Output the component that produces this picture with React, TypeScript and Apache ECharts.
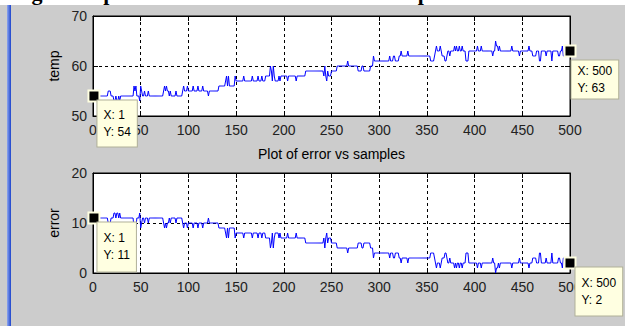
import React, { useEffect, useRef } from "react";
import * as echarts from "echarts";

// Run lengths (number of consecutive samples) shared by both plots
const RUN_LENGTHS = [
  15, 3, 3, 2, 1, 2, 1, 1, 14, 1,
  1, 1, 3, 1, 1, 1, 2, 1, 3, 1,
  15, 1, 1, 1, 1, 2, 1, 1, 5, 1,
  6, 1, 1, 3, 1, 5, 1, 4, 1, 4,
  1, 5, 1, 10, 7, 1, 1, 1, 1, 6,
  1, 8, 1, 8, 1, 5, 1, 3, 1, 3,
  5, 1, 1, 1, 1, 1, 4, 1, 1, 7,
  1, 8, 1, 9, 19, 1, 1, 1, 1, 1,
  3, 6, 11, 1, 10, 4, 2, 7, 3, 1,
  16, 1, 3, 2, 4, 2, 1, 6, 1, 23,
  4, 1, 1, 1, 3, 1, 1, 3, 2, 1,
  2, 1, 4, 1, 1, 1, 2, 1, 2, 1,
  3, 3, 9, 1, 3, 1, 11, 1, 2, 1,
  2, 1, 1, 12, 1, 7, 1, 9, 1, 3,
  4, 3, 2, 5, 1, 5, 1, 6, 2, 2,
  1, 2, 2, 4,
];

// Temperature level of each run
const TEMP_LEVELS = [
  54, 55, 54, 53, 54, 53, 54, 53, 54, 56,
  55, 56, 54, 53, 56, 55, 54, 55, 54, 55,
  54, 55, 56, 55, 56, 55, 54, 55, 54, 55,
  54, 55, 56, 55, 56, 55, 56, 55, 56, 55,
  56, 55, 54, 55, 56, 57, 58, 56, 58, 56,
  58, 57, 58, 57, 58, 57, 58, 57, 58, 57,
  58, 60, 59, 57, 60, 58, 57, 58, 57, 58,
  57, 58, 57, 58, 59, 58, 60, 58, 57, 59,
  58, 59, 60, 61, 60, 59, 60, 59, 60, 62,
  61, 62, 61, 62, 61, 62, 63, 62, 63, 62,
  61, 62, 63, 64, 63, 64, 63, 62, 61, 62,
  63, 62, 63, 64, 63, 64, 63, 64, 63, 64,
  63, 61, 63, 64, 63, 64, 63, 62, 63, 65,
  64, 63, 64, 63, 64, 63, 62, 63, 64, 63,
  62, 63, 61, 63, 62, 63, 61, 63, 62, 63,
  64, 62, 64, 63,
];

// Error level of each run
const ERROR_LEVELS = [
  11, 10, 11, 12, 11, 12, 11, 12, 11, 9,
  10, 9, 11, 12, 9, 10, 11, 10, 11, 10,
  11, 10, 9, 10, 9, 10, 11, 10, 11, 10,
  11, 10, 9, 10, 9, 10, 9, 10, 9, 10,
  9, 10, 11, 10, 9, 8, 7, 9, 7, 9,
  7, 8, 7, 8, 7, 8, 7, 8, 7, 8,
  7, 5, 6, 8, 5, 7, 8, 7, 8, 7,
  8, 7, 8, 7, 6, 7, 5, 7, 8, 6,
  7, 6, 5, 4, 5, 6, 5, 6, 5, 3,
  4, 3, 4, 3, 4, 3, 2, 3, 2, 3,
  4, 3, 2, 1, 2, 1, 2, 3, 4, 3,
  2, 3, 2, 1, 2, 1, 2, 1, 2, 1,
  2, 4, 2, 1, 2, 1, 2, 3, 2, 0,
  1, 2, 1, 2, 1, 2, 3, 2, 1, 2,
  3, 2, 4, 2, 3, 2, 4, 2, 3, 2,
  1, 3, 1, 2,
];

const X_TICKS = { min: 0, max: 500, interval: 50 };
const TEMP_TICKS = { min: 50, max: 70, interval: 10 };
const ERROR_TICKS = { min: 0, max: 20, interval: 10 };
const DATATIP_SAMPLES = [1, 500];

const SUBTITLE = "Plot of error vs samples";
const PAGE_TITLE = "Figure 4: plot of error and the ambient temperature";

function expand(levels: number[]) {
  const out: number[][] = [];
  let s = 1;
  RUN_LENGTHS.forEach((n, i) => {
    for (let k = 0; k < n; k++) {
      out.push([s, levels[i]]);
      s++;
    }
  });
  return out;
}

const SANS = "'Liberation Sans', Arial, sans-serif";

export default function App() {
  const ref = useRef<HTMLDivElement>(null);
  useEffect(() => {
    if (!ref.current) return;
    const chart = echarts.init(ref.current, null, { renderer: "svg" });
    const tempData = expand(TEMP_LEVELS);
    const errData = expand(ERROR_LEVELS);

    const xAxis = (gridIndex: number, position: string, main: boolean) => ({
      type: "value",
      gridIndex,
      position,
      ...X_TICKS,
      axisLine: { show: true, onZero: false, lineStyle: { color: "#000", width: 1 } },
      axisTick: { show: true, inside: true, length: 5, lineStyle: { color: "#000" } },
      axisLabel: main
        ? { show: true, margin: 7, color: "#222", fontSize: 14, fontFamily: SANS }
        : { show: false },
      splitLine: main
        ? { show: true, lineStyle: { color: "#000", type: [3, 3], width: 1 } }
        : { show: false },
    });
    const yAxis = (gridIndex: number, position: string, main: boolean, ticks: any, name: string) => ({
      type: "value",
      gridIndex,
      position,
      ...ticks,
      name: main ? name : "",
      nameLocation: "middle",
      nameGap: 28,
      nameRotate: 90,
      nameTextStyle: { color: "#000", fontSize: 14, fontFamily: SANS },
      axisLine: { show: true, onZero: false, lineStyle: { color: "#000", width: 1 } },
      axisTick: { show: true, inside: true, length: 5, lineStyle: { color: "#000" } },
      axisLabel: main
        ? { show: true, margin: 6, color: "#222", fontSize: 14, fontFamily: SANS }
        : { show: false },
      splitLine: main
        ? { show: true, lineStyle: { color: "#000", type: [3, 3], width: 1 } }
        : { show: false },
    });

    const tipLabel = (padding: number[], pos: number[]) => ({
      show: true,
      position: pos,
      align: "left",
      verticalAlign: "top",
      formatter: "{b}",
      backgroundColor: "#ffffe1",
      borderColor: "#b0b098",
      borderWidth: 1,
      padding,
      lineHeight: 17,
      fontSize: 12,
      color: "#000",
      fontFamily: SANS,
    });

    const tips = (data: number[][], pads: number[][], poss: number[][]) =>
      DATATIP_SAMPLES.map((s, i) => {
        const p = data[s - 1];
        return {
          coord: p,
          name: `X: ${p[0]}\nY: ${p[1]}`,
          label: tipLabel(pads[i], poss[i]),
        };
      });

    const markStyle = {
      symbol: "rect",
      symbolSize: 11,
      silent: true,
      itemStyle: { color: "#000", borderColor: "#ffffe1", borderWidth: 2 },
    };

    chart.setOption({
      animation: false,
      backgroundColor: "#cccccc",
      grid: [
        { left: 93, top: 16, width: 477, height: 100, show: true, backgroundColor: "#fff", borderColor: "#000", borderWidth: 1 },
        { left: 93, top: 173, width: 477, height: 100, show: true, backgroundColor: "#fff", borderColor: "#000", borderWidth: 1 },
      ],
      xAxis: [xAxis(0, "bottom", true), xAxis(0, "top", false), xAxis(1, "bottom", true), xAxis(1, "top", false)],
      yAxis: [
        yAxis(0, "left", true, TEMP_TICKS, "temp"),
        yAxis(0, "right", false, TEMP_TICKS, ""),
        yAxis(1, "left", true, ERROR_TICKS, "error"),
        yAxis(1, "right", false, ERROR_TICKS, ""),
      ],
      graphic: [
        { type: "rect", shape: { x: 0, y: 0, width: 625, height: 5 }, style: { fill: "#fff" }, z: 0 },
        {
          type: "text",
          x: 12,
          y: -8,
          z: 1,
          style: {
            text: PAGE_TITLE,
            font: "bold 22px 'Liberation Serif', 'Times New Roman', serif",
            fill: "#000",
            verticalAlign: "middle",
          },
        },
        {
          type: "rect",
          shape: { x: 7, y: 5, width: 4, height: 321 },
          z: 2,
          style: {
            fill: new echarts.graphic.LinearGradient(0, 0, 1, 0, [
              { offset: 0, color: "#8fa6ee" },
              { offset: 1, color: "#1c44cc" },
            ]),
          },
        },
        {
          type: "text",
          x: 331.5,
          y: 154,
          style: {
            text: SUBTITLE,
            font: "14px 'Liberation Sans', Arial, sans-serif",
            fill: "#000",
            align: "center",
            verticalAlign: "middle",
          },
        },
      ],
      series: [
        {
          type: "line",
          xAxisIndex: 0,
          yAxisIndex: 0,
          data: tempData,
          showSymbol: false,
          lineStyle: { color: "#0000ff", width: 1 },
          markPoint: {
            ...markStyle,
            data: tips(tempData, [[6, 6, 6, 6], [2, 6, 2, 6]], [[10, 11], [8, 16]]),
          },
        },
        {
          type: "line",
          xAxisIndex: 2,
          yAxisIndex: 2,
          data: errData,
          showSymbol: false,
          lineStyle: { color: "#0000ff", width: 1 },
          markPoint: {
            ...markStyle,
            data: tips(errData, [[7, 6, 8, 6], [7, 6, 7, 6]], [[10, 11], [12, 11]]),
          },
        },
      ],
    });
    return () => chart.dispose();
  }, []);
  return (
    <div
      ref={ref}
      style={{ position: "fixed", left: 0, top: 0, width: 625, height: 326 }}
    />
  );
}
